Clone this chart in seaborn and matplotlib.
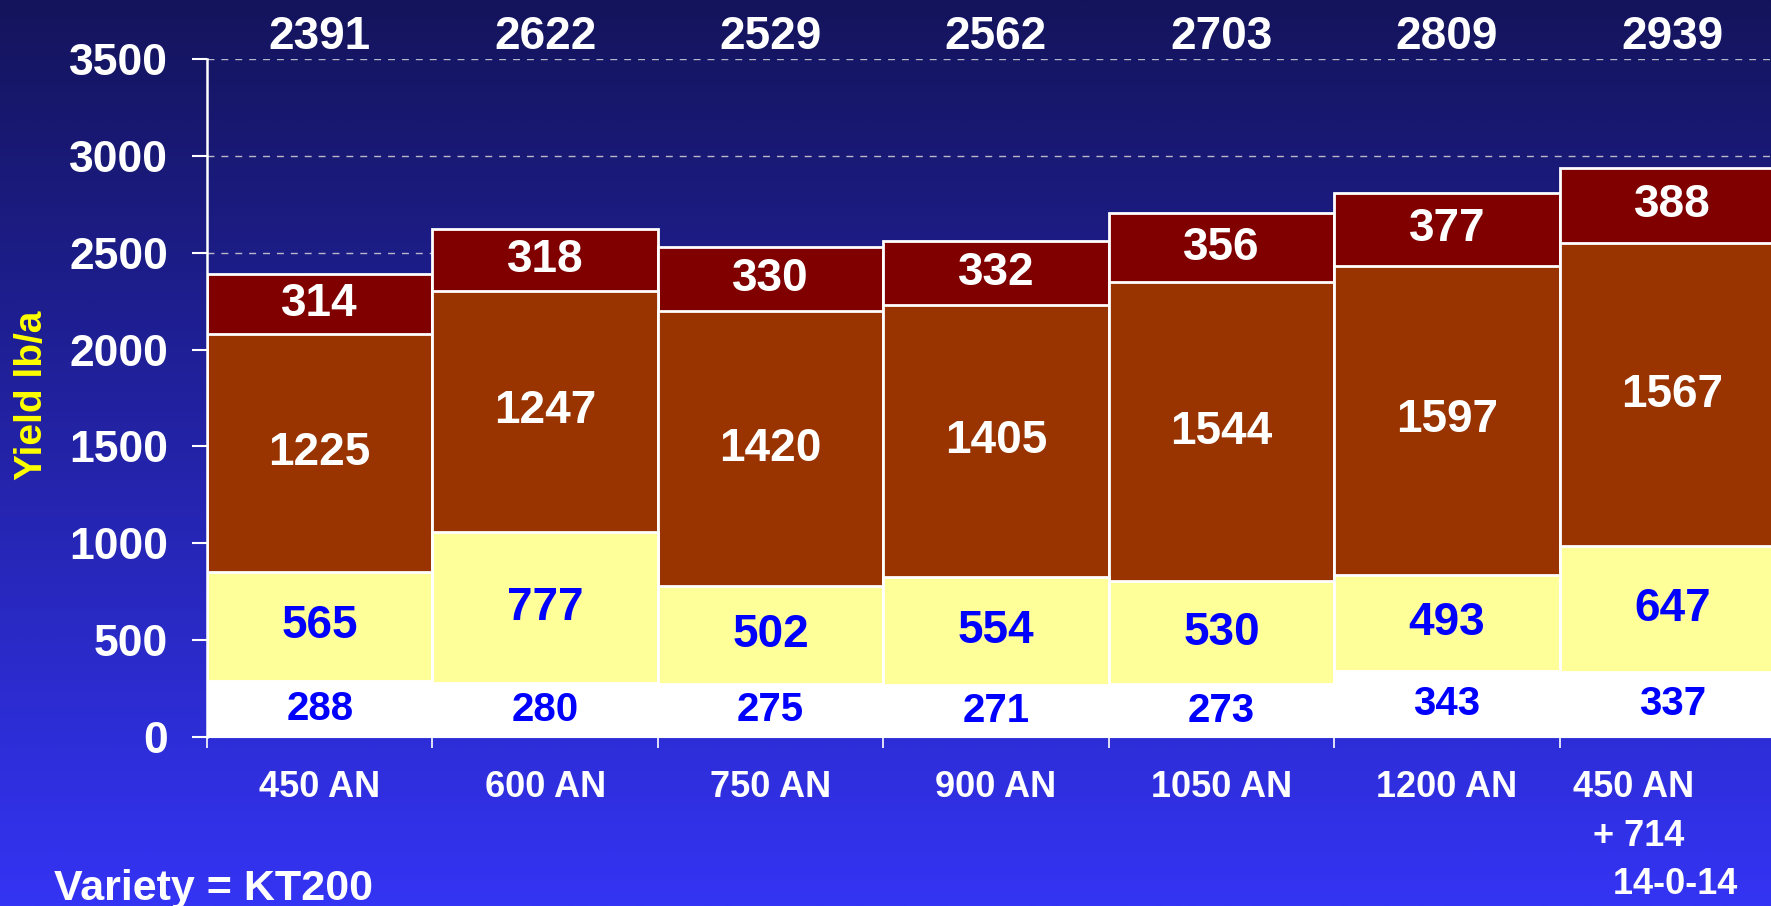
import numpy as np
import pandas as pd
import matplotlib
matplotlib.use("Agg")
import matplotlib.pyplot as plt
from matplotlib.colors import LinearSegmentedColormap
from matplotlib.transforms import ScaledTranslation
import seaborn as sns

# ---- data ----
categories = ["450 AN", "600 AN", "750 AN", "900 AN", "1050 AN", "1200 AN",
              "450 AN\n  + 714\n    14-0-14"]
seg_white = [288, 280, 275, 271, 273, 343, 337]
seg_yellow = [565, 777, 502, 554, 530, 493, 647]
seg_brown = [1225, 1247, 1420, 1405, 1544, 1597, 1567]
seg_red = [314, 318, 330, 332, 356, 377, 388]
totals = [2391, 2622, 2529, 2562, 2703, 2809, 2939]
y_ticks = [0, 500, 1000, 1500, 2000, 2500, 3000, 3500]
y_label = "Yield lb/a"
footnote = "Variety = KT200"

sns.set_style("ticks")
plt.rcParams["font.family"] = ["Liberation Sans", "DejaVu Sans"]
plt.rcParams["font.weight"] = "bold"

W, H = 1771, 906
fig = plt.figure(figsize=(W / 100, H / 100), dpi=100)

# background gradient
bg = fig.add_axes([0, 0, 1, 1], zorder=-10)
cmap = LinearSegmentedColormap.from_list("bg", ["#14145C", "#2323A8", "#3434F4"])
grad = np.linspace(0, 1, 512).reshape(-1, 1)
bg.imshow(grad, aspect="auto", cmap=cmap, extent=[0, 1, 0, 1], origin="upper")
bg.axis("off")

ax = fig.add_axes([207 / W, 169 / H, 1578 / W, 678 / H])
ax.set_facecolor("none")

segments = [seg_white, seg_yellow, seg_brown, seg_red]
colors = ["#FFFFFF", "#FFFF99", "#993300", "#800000"]
text_colors = ["#0000FF", "#0000FF", "#FFFFFF", "#FFFFFF"]
text_sizes = [29, 33, 33, 33]

cum = np.cumsum(np.array(segments), axis=0)
df = pd.DataFrame({"cat": categories})
for k in range(len(segments) - 1, -1, -1):
    df["h"] = cum[k]
    sns.barplot(data=df, x="cat", y="h", color=colors[k], saturation=1,
                width=1.0, edgecolor="white", linewidth=2, ax=ax, zorder=2)

for k, seg in enumerate(segments):
    bottoms = cum[k] - np.array(seg)
    for i, v in enumerate(seg):
        ax.text(i, bottoms[i] + v / 2, str(v), ha="center", va="center",
                color=text_colors[k], fontsize=text_sizes[k], fontweight="bold",
                zorder=5)

for i, t in enumerate(totals):
    ax.annotate(str(t), xy=(i, 1.0), xycoords=("data", "axes fraction"),
                xytext=(0, 16), textcoords="offset points", ha="center",
                va="center", color="white", fontsize=33, fontweight="bold",
                annotation_clip=False)

ax.set_xlim(-0.5, len(categories) - 0.5)
ax.set_ylim(0, 3500)
ax.set_yticks(y_ticks)
ax.set_yticklabels([str(v) for v in y_ticks])
ax.set_xticks(range(len(categories)))
ax.set_xticklabels(categories, multialignment="left", linespacing=1.5)
ax.set_xticks(np.arange(-0.5, len(categories), 1), minor=True)
ax.set_xlabel("")
ax.set_ylabel(y_label, color="#FFFF00", fontsize=28, fontweight="bold")
ax.yaxis.set_label_coords(-0.111, 0.504)
ax.yaxis.label.set_verticalalignment("center")

ax.tick_params(axis="y", colors="white", labelsize=32, length=11, width=1.5,
               pad=17, direction="out")
ax.tick_params(axis="x", which="major", colors="white", labelsize=26, length=0,
               pad=24)
ax.tick_params(axis="x", which="minor", colors="white", length=8, width=1.2,
               direction="out")
for lab in ax.get_xticklabels() + ax.get_yticklabels():
    lab.set_fontweight("bold")
last = ax.get_xticklabels()[-1]
last.set_transform(last.get_transform() + ScaledTranslation(-0.17, 0, fig.dpi_scale_trans))

ax.grid(axis="y", color="#B8B8C8", linestyle=(0, (5, 5)), linewidth=1.0)
ax.set_axisbelow(True)
for s in ["top", "right"]:
    ax.spines[s].set_visible(False)
ax.spines["left"].set_color("white")
ax.spines["left"].set_linewidth(1.8)
ax.spines["bottom"].set_color("white")

fig.text(54 / W, 6 / H, footnote, ha="left", va="baseline", color="white",
         fontsize=31, fontweight="bold")

fig.savefig("out.png", dpi=100)
